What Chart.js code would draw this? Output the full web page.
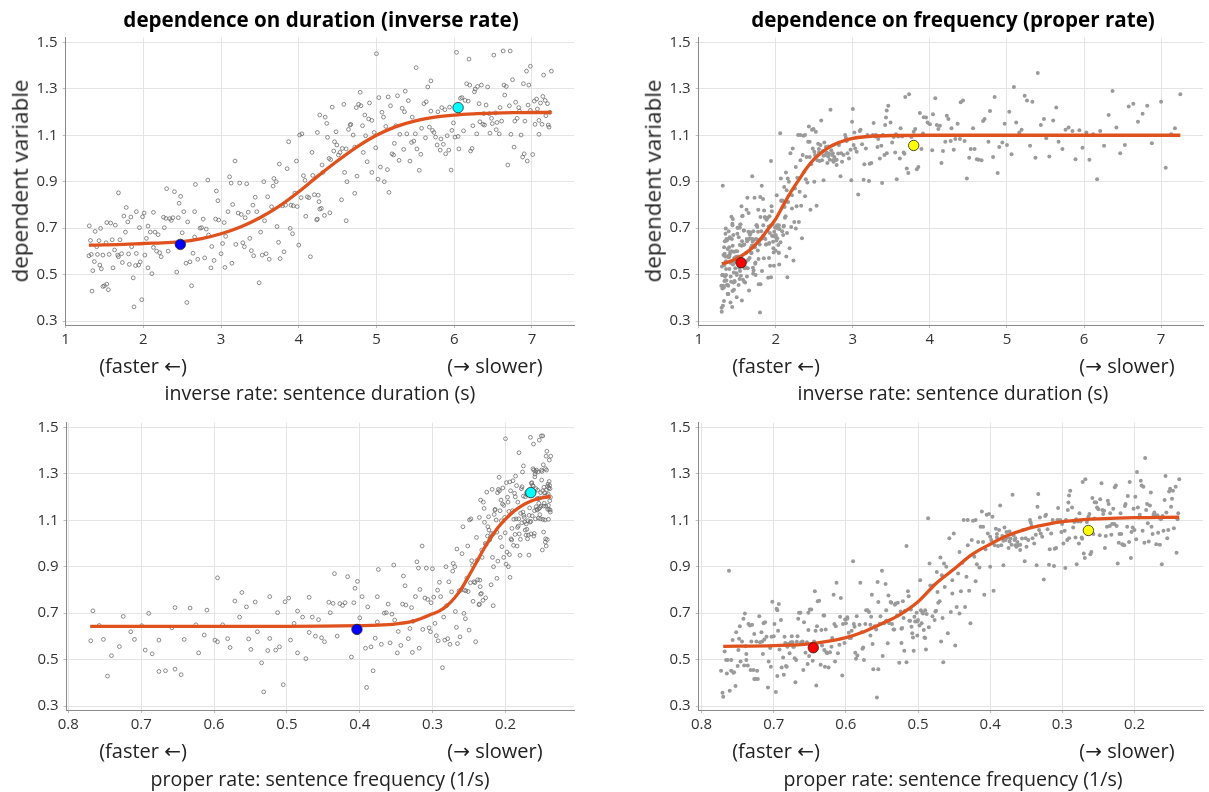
<!DOCTYPE html>
<html><head><meta charset="utf-8">
<script src="https://cdn.jsdelivr.net/npm/chart.js@4/dist/chart.umd.min.js"></script>
<style>
html,body{margin:0;padding:0;background:#fff;}
body{width:1209px;height:792px;position:relative;overflow:hidden;font-family:"Open Sans","Noto Sans",sans-serif;}
canvas{position:absolute;}
.t{position:absolute;white-space:nowrap;transform:translate(-50%,-50%);color:#111;line-height:1;}
.title{font-weight:bold;font-size:20.6px;color:#000;}
.ylab{font-size:22.4px;transform:translate(-50%,-50%) rotate(-90deg);color:#222;}
.dir{font-size:20px;color:#222;}
.xlab{font-size:19.6px;color:#222;}
.ar{font-family:"DejaVu Sans",sans-serif;font-size:1em;}
</style></head><body>
<canvas id="c1" width="604" height="400" style="left:0;top:0"></canvas>
<canvas id="c2" width="605" height="400" style="left:604px;top:0"></canvas>
<canvas id="c3" width="604" height="392" style="left:0;top:400px"></canvas>
<canvas id="c4" width="605" height="392" style="left:604px;top:400px"></canvas>

<div class="t title" style="left:321px;top:19px">dependence on duration (inverse rate)</div>
<div class="t title" style="left:953px;top:19px">dependence on frequency (proper rate)</div>
<div class="t ylab" style="left:19.5px;top:181px">dependent variable</div>
<div class="t ylab" style="left:652.6px;top:181px">dependent variable</div>
<div class="t dir" style="left:143px;top:366px">(faster <span class="ar">←</span>)</div>
<div class="t dir" style="left:495px;top:366px">(<span class="ar">→</span> slower)</div>
<div class="t dir" style="left:776px;top:366px">(faster <span class="ar">←</span>)</div>
<div class="t dir" style="left:1127px;top:366px">(<span class="ar">→</span> slower)</div>
<div class="t xlab" style="left:320px;top:393px">inverse rate: sentence duration (s)</div>
<div class="t xlab" style="left:953px;top:393px">inverse rate: sentence duration (s)</div>
<div class="t dir" style="left:143px;top:751px">(faster <span class="ar">←</span>)</div>
<div class="t dir" style="left:495px;top:751px">(<span class="ar">→</span> slower)</div>
<div class="t dir" style="left:776px;top:751px">(faster <span class="ar">←</span>)</div>
<div class="t dir" style="left:1127px;top:751px">(<span class="ar">→</span> slower)</div>
<div class="t xlab" style="left:320px;top:779px">proper rate: sentence frequency (1/s)</div>
<div class="t xlab" style="left:953px;top:779px">proper rate: sentence frequency (1/s)</div>

<script>
// ---------- data ----------
// left column data set: [sentence duration (s), dependent variable]
const durationSetA = [
[1.305,0.710],[1.32,0.647],[1.30,0.581],[1.33,0.587],[1.35,0.517],[1.34,0.429],[1.37,0.556],[1.38,0.686],[1.40,0.620],[1.41,0.587],
[1.43,0.646],[1.44,0.541],[1.46,0.525],[1.45,0.699],[1.48,0.584],[1.48,0.449],[1.50,0.452],[1.53,0.459],[1.55,0.435],[1.52,0.637],
[1.53,0.724],[1.56,0.587],[1.58,0.722],[1.60,0.650],[1.61,0.529],[1.64,0.713],[1.63,0.606],[1.67,0.584],[1.68,0.852],[1.70,0.650],
[1.72,0.590],[1.73,0.552],[1.68,0.577],[1.75,0.752],[1.77,0.683],[1.78,0.789],[1.81,0.589],[1.82,0.544],[1.80,0.727],[1.84,0.748],
[1.85,0.620],[1.87,0.486],[1.88,0.361],[1.90,0.539],[1.91,0.771],[1.91,0.591],[1.94,0.541],[1.96,0.555],[1.98,0.392],[1.95,0.702],
[1.99,0.749],[2.01,0.765],[2.02,0.584],[2.04,0.656],[2.06,0.709],[2.06,0.529],[2.09,0.683],[2.11,0.504],[2.13,0.768],[2.13,0.617],
[2.15,0.683],[2.17,0.601],[2.19,0.672],[2.21,0.594],[2.23,0.577],[2.26,0.747],[2.27,0.702],[2.30,0.870],[2.29,0.742],[2.32,0.601],
[2.34,0.741],[2.36,0.733],[2.38,0.745],[2.40,0.857],[2.43,0.511],[2.45,0.745],[2.46,0.807],[2.48,0.837],[2.50,0.680],[2.52,0.771],
[2.55,0.549],[2.56,0.380],[2.57,0.727],[2.60,0.555],[2.62,0.452],[2.64,0.592],[2.66,0.771],[2.66,0.662],[2.67,0.888],[2.70,0.566],
[2.73,0.700],[2.75,0.702],[2.77,0.739],[2.79,0.572],[2.81,0.696],[2.83,0.907],[2.84,0.670],[2.87,0.529],[2.88,0.621],[2.91,0.561],
[2.93,0.739],[2.94,0.860],[2.96,0.818],[2.97,0.735],[3.00,0.590],[3.02,0.634],[3.04,0.724],[3.05,0.531],[3.06,0.665],[3.09,0.771],
[3.11,0.921],[3.13,0.894],[3.14,0.549],[3.15,0.802],[3.18,0.989],[3.19,0.630],[3.22,0.765],[3.24,0.894],[3.26,0.759],[3.28,0.637],
[3.30,0.620],[3.31,0.745],[3.33,0.891],[3.35,0.769],[3.37,0.656],[3.39,0.603],[3.41,0.799],[3.42,0.581],[3.44,0.833],[3.46,0.771],
[3.49,0.465],[3.51,0.683],[3.53,0.584],[3.55,0.900],[3.56,0.732],[3.58,0.590],[3.60,0.835],[3.62,0.566],[3.65,0.792],[3.67,0.881],
[3.68,0.914],[3.71,0.900],[3.72,0.707],[3.74,0.639],[3.75,0.976],[3.76,0.569],[3.79,0.796],[3.81,0.598],[3.83,0.799],[3.85,0.956],
[3.87,1.072],[3.89,0.699],[3.90,0.799],[3.92,0.676],[3.93,0.796],[3.95,0.851],[3.97,0.989],[3.98,0.793],[4.00,0.627],[4.01,1.101],
[4.03,0.831],[4.04,1.106],[4.06,0.926],[4.08,0.906],[4.09,0.751],[4.11,0.835],[4.13,0.831],[4.15,0.577],[4.17,1.026],[4.18,0.927],
[4.20,0.844],[4.23,0.736],[4.24,1.112],[4.26,0.814],[4.27,1.187],[4.25,0.842],[4.29,0.785],[4.24,0.739],
[4.34,1.178],[4.36,1.151],[4.37,1.091],[4.30,0.972],[4.31,0.940],[4.27,0.782],[4.33,0.755],[4.40,0.766],[4.39,1.000],[4.41,0.995],
[4.43,1.221],[4.45,1.032],[4.46,1.072],[4.48,1.115],[4.49,1.058],[4.51,1.015],[4.53,1.026],[4.55,0.822],[4.56,1.043],[4.58,1.233],
[4.59,0.940],[4.61,0.732],[4.62,0.900],[4.61,1.041],[4.64,1.125],[4.66,1.144],[4.67,1.147],[4.70,1.101],[4.72,0.850],[4.72,1.049],
[4.75,0.924],[4.74,1.219],[4.77,1.233],[4.79,1.285],[4.80,1.227],[4.82,1.141],[4.83,1.026],[4.85,1.187],[4.86,1.098],[4.88,0.986],
[4.90,1.170],[4.91,1.239],[4.94,0.940],[4.94,1.164],[4.97,1.112],[5.00,1.451],[4.99,1.046],[5.02,0.911],[5.03,1.262],[5.05,0.963],
[5.07,1.199],[5.09,1.178],[5.10,0.900],[5.12,1.138],[5.14,0.952],[5.15,1.265],[5.16,0.854],[5.18,1.227],[5.20,1.020],[5.22,1.015],
[5.23,1.065],[5.25,1.141],[5.27,1.270],[5.29,0.992],[5.30,1.104],[5.33,1.216],[5.35,1.039],[5.36,1.201],[5.37,1.290],[5.39,1.106],
[5.41,1.249],[5.43,0.989],[5.45,1.069],[5.46,1.178],[5.48,1.075],[5.50,1.106],[5.51,1.391],[5.52,1.041],[5.55,0.949],[5.57,1.018],
[5.58,1.130],[5.61,1.236],[5.63,1.089],[5.64,1.244],[5.66,1.308],[5.70,1.334],[5.68,1.135],[5.70,1.204],[5.72,1.121],[5.74,1.112],
[5.76,1.092],[5.78,1.058],[5.79,1.201],[5.82,1.036],[5.83,1.084],[5.84,1.219],[5.86,1.061],[5.88,1.210],[5.89,1.020],[5.91,1.098],
[5.93,1.036],[5.94,1.221],[5.96,0.950],[5.97,1.121],[5.99,1.153],[6.01,1.092],[6.03,1.457],[6.05,1.095],[6.06,1.041],[6.08,1.259],
[6.10,1.262],[6.12,1.119],[6.14,1.250],[6.16,1.322],[6.18,1.247],[6.19,1.428],[6.20,1.316],[6.21,1.032],[6.23,1.043],[6.24,1.141],
[6.26,1.287],[6.27,1.299],[6.29,1.106],[6.30,1.310],[6.32,1.236],[6.33,1.158],[6.35,1.316],[6.37,1.147],[6.38,1.193],[6.39,1.144],
[6.41,1.230],[6.43,1.308],[6.45,1.193],[6.46,1.109],[6.48,1.173],[6.49,1.150],[6.51,1.445],[6.53,1.196],[6.54,1.124],[6.55,1.155],
[6.58,1.106],[6.59,1.219],[6.61,1.161],[6.63,1.463],[6.64,1.316],[6.65,1.273],[6.67,1.310],[6.69,0.972],[6.71,1.227],[6.72,1.463],
[6.73,1.104],[6.75,1.339],[6.77,1.049],[6.78,1.161],[6.79,1.242],[6.81,1.173],[6.83,1.219],[6.84,1.204],[6.86,1.101],[6.88,1.006],
[6.89,1.322],[6.90,1.020],[6.91,1.161],[6.93,1.376],[6.94,0.989],[6.95,1.230],[6.96,1.316],[6.98,1.397],[6.98,1.207],[7.01,1.017],
[7.03,1.247],[7.04,1.147],[7.06,1.256],[7.07,1.213],[7.09,1.164],[7.09,1.104],[7.11,1.239],[7.13,1.147],[7.14,1.267],[7.15,1.359],
[7.17,1.250],[7.18,1.184],[7.20,1.236],[7.21,1.144],[7.22,1.135],[7.25,1.376],[7.23,1.199]
];
// right column data set, slower sentences read in duration units: [duration (s), value]
const durationSetB = [
[2.16,0.813],[2.17,0.900],[2.18,0.613],[2.19,1.023],[2.20,0.705],[2.21,0.842],[2.21,0.785],[2.22,1.043],[2.23,0.561],[2.24,0.727],[2.25,0.871],
[2.26,0.963],[2.26,0.699],[2.27,0.794],[2.28,0.917],[2.29,1.101],[2.30,0.727],[2.31,0.857],[2.32,1.101],[2.32,0.992],[2.33,0.796],
[2.34,0.656],[2.35,1.015],[2.36,1.098],[2.37,0.943],[2.38,1.101],[2.38,0.837],[2.39,0.911],[2.40,1.006],[2.41,0.897],[2.42,1.072],
[2.43,1.138],[2.44,1.006],[2.44,1.072],[2.45,0.779],[2.46,0.975],[2.47,1.124],[2.48,1.043],[2.49,1.127],[2.50,1.029],[2.50,0.900],
[2.51,1.015],[2.52,1.115],[2.53,0.796],[2.54,0.992],[2.55,1.063],[2.56,1.041],[2.56,1.026],[2.57,0.989],[2.58,1.058],[2.59,1.164],
[2.60,0.992],[2.61,1.032],[2.62,0.906],[2.62,1.012],[2.63,1.069],[2.64,1.015],[2.65,1.049],[2.66,1.026],[2.67,0.980],[2.68,1.052],
[2.68,1.009],[2.69,1.021],[2.70,0.995],[2.71,1.210],[2.72,1.035],[2.73,1.015],[2.74,0.992],[2.74,1.023],[2.75,0.986],[2.76,1.006],
[2.77,0.992],[2.79,0.995],[2.79,0.972],[2.81,1.021],[2.82,1.058],[2.84,0.923],[2.85,1.023],[2.86,0.986],[2.88,1.015],[2.90,1.101],
[2.91,1.089],[2.92,1.075],[2.93,1.023],[2.95,1.000],[2.97,1.038],[2.98,0.906],[2.99,1.158],[3.00,1.213],[3.01,1.058],[3.02,1.112],
[3.03,1.043],[3.05,1.029],[3.07,0.845],[3.09,1.118],[3.10,1.124],[3.12,1.061],[3.14,0.908],[3.15,0.975],[3.17,1.043],[3.19,1.101],
[3.21,0.903],[3.22,0.977],[3.24,0.980],[3.26,1.101],[3.27,1.153],[3.29,1.095],[3.30,1.101],[3.32,1.049],[3.33,1.084],[3.35,1.000],
[3.37,1.055],[3.38,0.894],[3.39,1.101],[3.41,1.015],[3.42,1.144],[3.43,1.176],[3.44,1.207],[3.46,1.227],
[3.49,1.155],[3.44,1.023],[3.51,1.069],[3.53,1.092],[3.55,1.026],[3.56,1.104],[3.57,0.911],[3.59,1.095],[3.61,1.000],[3.62,1.130],
[3.64,1.095],[3.66,1.026],[3.67,1.020],[3.68,1.265],[3.70,0.957],[3.72,0.937],[3.73,1.276],[3.76,1.092],[3.79,1.115],[3.81,1.127],
[3.83,0.954],[3.85,0.963],[3.87,1.196],[3.89,1.041],[3.91,1.107],[3.92,1.178],[3.95,1.176],[3.97,1.155],[4.00,1.147],[4.03,1.035],
[4.04,1.190],[4.07,1.259],[4.09,1.144],[4.11,1.127],[4.13,1.141],[4.15,0.980],[4.17,1.032],[4.20,1.072],[4.22,1.184],[4.24,1.170],
[4.27,1.075],[4.28,1.130],[4.31,1.038],[4.33,1.084],[4.36,1.150],[4.39,1.084],[4.40,1.242],[4.43,1.250],[4.45,1.075],[4.48,0.914],
[4.51,1.003],[4.53,1.041],[4.56,1.130],[4.58,1.041],[4.61,0.997],[4.63,0.995],[4.67,0.992],[4.69,1.161],[4.71,1.170],[4.76,1.072],
[4.78,1.204],[4.82,1.006],[4.84,1.265],[4.88,0.937],[4.90,1.049],[4.94,1.069],[4.97,1.150],[5.00,1.058],[5.03,1.201],[5.06,1.018],
[5.09,1.308],[5.12,1.155],[5.16,1.112],[5.19,1.124],[5.23,1.270],[5.26,1.250],[5.30,1.055],[5.33,1.244],[5.37,1.003],[5.40,1.368],
[5.44,1.144],[5.48,1.170],[5.51,1.087],[5.55,1.009],[5.60,1.164],[5.64,1.219],[5.67,1.072],[5.72,1.041],[5.76,1.124],[5.80,1.133],
[5.85,1.118],[5.89,0.997],[5.94,1.121],[5.98,1.046],[6.03,1.112],[6.07,0.995],[6.12,1.104],[6.17,0.911],[6.21,1.118],[6.26,1.055],
[6.32,1.187],[6.37,1.290],[6.42,1.133],[6.47,1.023],[6.53,1.058],[6.58,1.224],[6.64,1.236],[6.70,1.158],[6.76,1.193],[6.82,1.227],
[6.88,1.066],[7.00,1.244],[7.06,0.960],[7.13,1.104],[7.18,1.130],[7.25,1.276]
];
// right column data set, faster sentences read in frequency units: [frequency (1/s), value]
const frequencySetB = [
[0.773,0.452],[0.771,0.357],[0.770,0.340],[0.768,0.535],[0.766,0.498],[0.765,0.440],[0.764,0.498],[0.762,0.883],[0.761,0.366],[0.759,0.452],
[0.759,0.498],[0.757,0.584],[0.756,0.443],[0.755,0.445],[0.753,0.386],[0.752,0.618],[0.750,0.472],[0.749,0.541],[0.748,0.590],[0.747,0.644],
[0.746,0.492],[0.744,0.578],[0.742,0.676],[0.741,0.475],[0.740,0.699],[0.739,0.558],[0.738,0.524],[0.738,0.498],[0.736,0.475],[0.735,0.653],
[0.733,0.647],[0.732,0.455],[0.731,0.578],[0.730,0.650],[0.728,0.455],[0.727,0.417],[0.727,0.610],[0.725,0.417],[0.724,0.578],[0.723,0.452],
[0.722,0.417],[0.720,0.687],[0.719,0.575],[0.717,0.618],[0.716,0.578],[0.715,0.524],[0.714,0.656],[0.713,0.587],[0.712,0.661],[0.710,0.598],
[0.708,0.380],[0.707,0.492],[0.705,0.550],[0.704,0.469],[0.703,0.598],[0.702,0.749],[0.700,0.601],[0.699,0.653],[0.697,0.360],[0.696,0.719],
[0.695,0.713],[0.695,0.429],[0.694,0.624],[0.693,0.739],[0.692,0.544],[0.690,0.670],[0.689,0.466],[0.687,0.509],[0.686,0.435],[0.685,0.598],
[0.684,0.572],[0.683,0.472],[0.682,0.469],[0.681,0.555],[0.680,0.567],[0.678,0.527],[0.677,0.572],[0.676,0.575],[0.675,0.601],[0.674,0.575],
[0.673,0.555],[0.672,0.555],[0.671,0.506],[0.670,0.403],[0.669,0.498],[0.668,0.577],[0.667,0.601],[0.666,0.676],[0.665,0.702],[0.663,0.702],
[0.662,0.575],[0.660,0.578],[0.659,0.455],[0.658,0.661],[0.656,0.529],[0.654,0.575],[0.653,0.481],[0.652,0.702],[0.652,0.627],[0.651,0.515],
[0.650,0.716],[0.648,0.716],[0.646,0.495],[0.644,0.578],[0.643,0.794],[0.642,0.624],[0.641,0.389],[0.640,0.644],[0.639,0.751],[0.637,0.753],
[0.635,0.478],[0.634,0.627],[0.633,0.561],[0.631,0.690],[0.630,0.541],[0.630,0.690],[0.629,0.469],[0.628,0.630],[0.627,0.532],[0.626,0.527],
[0.624,0.466],[0.622,0.532],[0.620,0.555],[0.619,0.593],[0.617,0.779],[0.616,0.653],[0.615,0.492],[0.614,0.644],[0.613,0.831],[0.611,0.527],
[0.609,0.564],[0.608,0.684],[0.607,0.765],[0.605,0.432],[0.604,0.653],[0.602,0.572],[0.601,0.673],[0.600,0.656],[0.598,0.676],[0.598,0.682],
[0.596,0.616],[0.595,0.593],[0.593,0.593],[0.592,0.624],[0.590,0.923],[0.589,0.653],[0.588,0.641],[0.587,0.529],[0.586,0.504],[0.585,0.687],
[0.584,0.518],[0.581,0.650],[0.580,0.831],[0.578,0.618],[0.577,0.547],[0.576,0.552],[0.575,0.498],[0.573,0.653],[0.572,0.713],[0.570,0.713],
[0.568,0.705],[0.566,0.650],[0.566,0.604],[0.565,0.684],[0.564,0.779],[0.563,0.567],[0.562,0.458],[0.560,0.644],[0.558,0.630],[0.557,0.337],
[0.556,0.834],[0.555,0.458],[0.555,0.748],[0.553,0.653],[0.552,0.687],[0.550,0.883],[0.549,0.515],[0.547,0.656],[0.545,0.825],[0.544,0.667],
[0.544,0.713],[0.542,0.570],[0.541,0.776],[0.540,0.656],[0.538,0.748],[0.537,0.745],[0.536,0.653],[0.534,0.630],[0.533,0.630],[0.532,0.736],
[0.531,0.742],[0.529,0.690],[0.528,0.745],[0.526,0.486],[0.524,0.707],[0.523,0.572],[0.523,0.633],[0.522,0.636],[0.521,0.751],[0.520,0.679],
[0.519,0.538],[0.518,0.710],[0.516,0.489],[0.516,0.989],[0.514,0.794],[0.513,0.773],[0.512,0.667],[0.511,0.667],[0.510,0.716],[0.509,0.641],
[0.508,0.613],[0.507,0.595],[0.506,0.538],[0.505,0.684],[0.504,0.664],[0.502,0.702],[0.501,0.604],[0.501,0.664],[0.500,0.670],[0.498,0.647],
[0.497,0.842],[0.496,0.713],[0.495,0.656],[0.494,0.702],[0.493,0.699],[0.492,0.627],[0.491,0.595],[0.490,0.593],[0.490,0.713],[0.489,0.544],
[0.488,0.696],[0.486,1.109],[0.485,0.639],[0.484,0.914],[0.483,0.819],[0.482,0.817],[0.480,0.687],[0.479,0.819],[0.477,0.670],[0.476,0.707],
[0.475,0.710],[0.474,0.877],[0.473,0.791],[0.472,0.745],[0.470,0.751],[0.469,0.940],[0.468,0.578],[0.467,0.863],[0.466,0.679],[0.465,0.489],
[0.464,0.914]
];
// highlighted sentences [duration, value]
const blueDot = [2.476, 0.630];
const cyanDot = [6.05, 1.219];
const redDot = [1.55, 0.551];
const yellowDot = [3.79, 1.056];

// fitted curves
const fitTL_x = [1.3,1.5,1.75,2.0,2.25,2.5,2.75,3.0,3.25,3.5,3.75,4.0,4.25,4.5,4.75,5.0,5.25,5.5,5.75,6.0,6.25,6.5,6.75,7.0,7.25];
const fitTL_y = [0.627,0.628,0.630,0.634,0.637,0.642,0.655,0.676,0.705,0.745,0.795,0.857,0.925,0.990,1.050,1.100,1.137,1.162,1.178,1.187,1.192,1.195,1.197,1.198,1.198];
const fitTR_x = [1.3,1.4,1.5,1.6,1.7,1.8,1.9,2.0,2.1,2.2,2.3,2.4,2.5,2.6,2.7,2.8,2.9,3.0,3.25,3.5,4.0,5.0,6.0,7.25];
const fitTR_y = [0.547,0.556,0.570,0.590,0.617,0.652,0.695,0.740,0.800,0.858,0.908,0.958,0.998,1.027,1.050,1.066,1.078,1.087,1.096,1.099,1.100,1.100,1.100,1.100];
const fitBL_x = [0.77,0.7,0.6,0.5,0.45,0.40,0.375,0.35,0.325,0.30,0.29,0.28,0.27,0.26,0.25,0.24,0.23,0.22,0.21,0.20,0.19,0.18,0.17,0.16,0.15,0.14,0.138];
const fitBL_y = [0.643,0.643,0.643,0.643,0.644,0.646,0.648,0.654,0.667,0.697,0.711,0.733,0.765,0.808,0.862,0.918,0.975,1.025,1.070,1.105,1.135,1.158,1.175,1.188,1.196,1.202,1.204];
const fitBR_x = [0.77,0.70,0.65,0.60,0.575,0.55,0.525,0.50,0.475,0.45,0.425,0.40,0.375,0.35,0.325,0.30,0.275,0.25,0.20,0.138];
const fitBR_y = [0.557,0.560,0.568,0.595,0.620,0.655,0.694,0.749,0.828,0.890,0.953,0.997,1.035,1.062,1.080,1.094,1.102,1.106,1.111,1.113];

// tick labels
const yTicks = [0.3,0.5,0.7,0.9,1.1,1.3,1.5];
const yTickLabels = ['0.3','0.5','0.7','0.9','1.1','1.3','1.5'];
const durTicks = [1,2,3,4,5,6,7];
const durTickLabels = ['1','2','3','4','5','6','7'];
const freqTicks = [0.8,0.7,0.6,0.5,0.4,0.3,0.2];
const freqTickLabels = ['0.8','0.7','0.6','0.5','0.4','0.3','0.2'];

// ---------- drawing ----------
const asIs = a => a.map(p => ({x: p[0], y: p[1]}));
const inverted = a => a.map(p => ({x: 1 / p[0], y: p[1]}));
const zip = (xs, ys) => xs.map((x, i) => ({x, y: ys[i]}));
const CURVE = '#e0521d';
const TICKFONT = {family: '"Open Sans","Noto Sans",sans-serif', size: 15};

function panel(id, o) {
  const hollow = o.hollow;
  new Chart(document.getElementById(id), {
    type: 'scatter',
    data: {datasets: [
      {data: o.dots, order: 0, pointRadius: 5.2, pointBackgroundColor: o.dotColors,
       pointBorderColor: '#222', pointBorderWidth: 0.8, showLine: false},
      {type: 'line', data: o.curve, order: 1, borderColor: CURVE, borderWidth: 3.3, pointRadius: 0,
       cubicInterpolationMode: 'monotone', fill: false},
      {data: o.points, order: 2, showLine: false,
       pointRadius: hollow ? 1.9 : 2.0,
       pointBackgroundColor: hollow ? 'rgba(255,255,255,0)' : '#9a9a9a',
       pointBorderColor: hollow ? '#666' : '#9a9a9a',
       pointBorderWidth: hollow ? 0.75 : 0}
    ]},
    options: {
      responsive: false, animation: false, events: [],
      layout: {padding: {top: o.top, right: o.right, left: 0, bottom: 0}},
      plugins: {legend: {display: false}, tooltip: {enabled: false}, title: {display: false}},
      scales: {
        x: {type: 'linear', position: 'bottom', min: o.xmin, max: o.xmax, reverse: !!o.reverse,
            afterBuildTicks: s => { s.ticks = o.xTicks.map(v => ({value: v})); },
            afterFit: s => { s.height = o.xh; },
            grid: {color: '#e4e4e4', lineWidth: 1, tickLength: 3, tickColor: '#bdbdbd'},
            border: {display: true, color: '#8a8a8a', width: 1},
            ticks: {font: TICKFONT, color: '#333', padding: 3, maxRotation: 0, autoSkip: false,
                    callback: (v, i) => o.xLabels[i]}},
        y: {type: 'linear', min: 0.283, max: 1.52,
            afterBuildTicks: s => { s.ticks = yTicks.map(v => ({value: v})); },
            afterFit: s => { s.width = o.yw; },
            grid: {color: '#e4e4e4', lineWidth: 1, tickLength: 3, tickColor: '#bdbdbd'},
            border: {display: true, color: '#8a8a8a', width: 1},
            ticks: {font: TICKFONT, color: '#333', padding: 5, autoSkip: false,
                    callback: (v, i) => yTickLabels[i]}}
      }
    }
  });
}

panel('c1', {hollow: true, points: asIs(durationSetA), curve: zip(fitTL_x, fitTL_y),
  dots: [{x: blueDot[0], y: blueDot[1]}, {x: cyanDot[0], y: cyanDot[1]}], dotColors: ['#0000ff', '#00ffff'],
  xmin: 1, xmax: 7.545, xTicks: durTicks, xLabels: durTickLabels,
  top: 37.7, right: 29.7, yw: 65.6, xh: 75});
panel('c2', {hollow: false, points: asIs(durationSetB).concat(inverted(frequencySetB)), curve: zip(fitTR_x, fitTR_y),
  dots: [{x: redDot[0], y: redDot[1]}, {x: yellowDot[0], y: yellowDot[1]}], dotColors: ['#ff0000', '#ffff00'],
  xmin: 1, xmax: 7.544, xTicks: durTicks, xLabels: durTickLabels,
  top: 37.7, right: 2.3, yw: 94.7, xh: 75});
panel('c3', {hollow: true, points: inverted(durationSetA), curve: zip(fitBL_x, fitBL_y),
  dots: [{x: 1 / blueDot[0], y: blueDot[1]}, {x: 1 / cyanDot[0], y: cyanDot[1]}], dotColors: ['#0000ff', '#00ffff'],
  xmin: 0.106, xmax: 0.8025, reverse: true, xTicks: freqTicks, xLabels: freqTickLabels,
  top: 22.7, right: 30, yw: 66.5, xh: 82});
panel('c4', {hollow: false, points: inverted(durationSetB).concat(asIs(frequencySetB)), curve: zip(fitBR_x, fitBR_y),
  dots: [{x: 1 / redDot[0], y: redDot[1]}, {x: 1 / yellowDot[0], y: yellowDot[1]}], dotColors: ['#ff0000', '#ffff00'],
  xmin: 0.105, xmax: 0.804, reverse: true, xTicks: freqTicks, xLabels: freqTickLabels,
  top: 22.7, right: 1, yw: 94.7, xh: 82});
</script>
</body></html>
